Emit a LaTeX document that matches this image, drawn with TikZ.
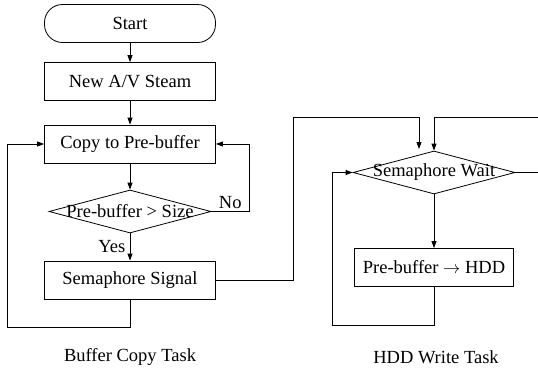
\documentclass[tikz,border=0pt]{standalone}
\usepackage{fontspec}
\setmainfont{Liberation Serif}
\usetikzlibrary{shapes.geometric,arrows.meta}

\begin{document}
\begin{tikzpicture}[x=1pt,y=-1pt,line width=0.8pt,font=\fontsize{18.5}{20}\selectfont,
    >={Triangle[length=7pt,width=5pt]},
    taskbox/.style={draw,rectangle,minimum width=171pt,minimum height=38pt,inner sep=0pt},
    termbox/.style={taskbox,rounded corners=18pt},
    decision/.style={draw,diamond,minimum width=162pt,minimum height=43pt,inner sep=0pt}]
    \useasboundingbox (0,0) rectangle (538,369);
    % buffer copy task
    \node[termbox] (start) at (130,23.5) {Start};
    \node[taskbox] (stream) at (130,81.5) {New A/V Steam};
    \node[taskbox] (copy) at (130,144) {Copy to Pre-buffer};
    \node[decision] (size) at (130,211.5) {};
    \node (sizetxt) at (size) {Pre-buffer > Size};
    \node[taskbox] (signal) at (130,280) {Semaphore Signal};
    \node (copytask) at (130,357) {Buffer Copy Task};
    \draw[->] (start) -- (stream);
    \draw[->] (stream) -- (copy);
    \draw[->] (copy) -- (size);
    \draw[->] (size.south) -- node[left=1pt] {Yes} (signal.north);
    \draw[->] (size.east) -- node[above=-1pt] {No} (249,211.5) |- (copy.east);
    \draw[->] (signal.south) -- (130,327) -| (7,144) -- (copy.west);
    % hdd write task
    \node[decision] (wait) at (434,172.5) {};
    \node (waittxt) at (wait) {Semaphore Wait};
    \coordinate (waitin) at (419,149);
    \node[taskbox,minimum width=159pt] (hdd) at (434,267.5) {Pre-buffer $\rightarrow$ HDD};
    \node (hddtask) at (436,357) {HDD Write Task};
    \draw[->] (wait.south) -- (hdd.north);
    \draw[->] (hdd.south) -- (434,325) -| (332,172.5) -- (wait.west);
    \draw[->] (signal.east) -- (293,280) |- (419,117) -- (waitin);
    \draw[->] (wait.east) -- (540,172.5) |- (434,117) -- (wait.north);
\end{tikzpicture}
\end{document}
